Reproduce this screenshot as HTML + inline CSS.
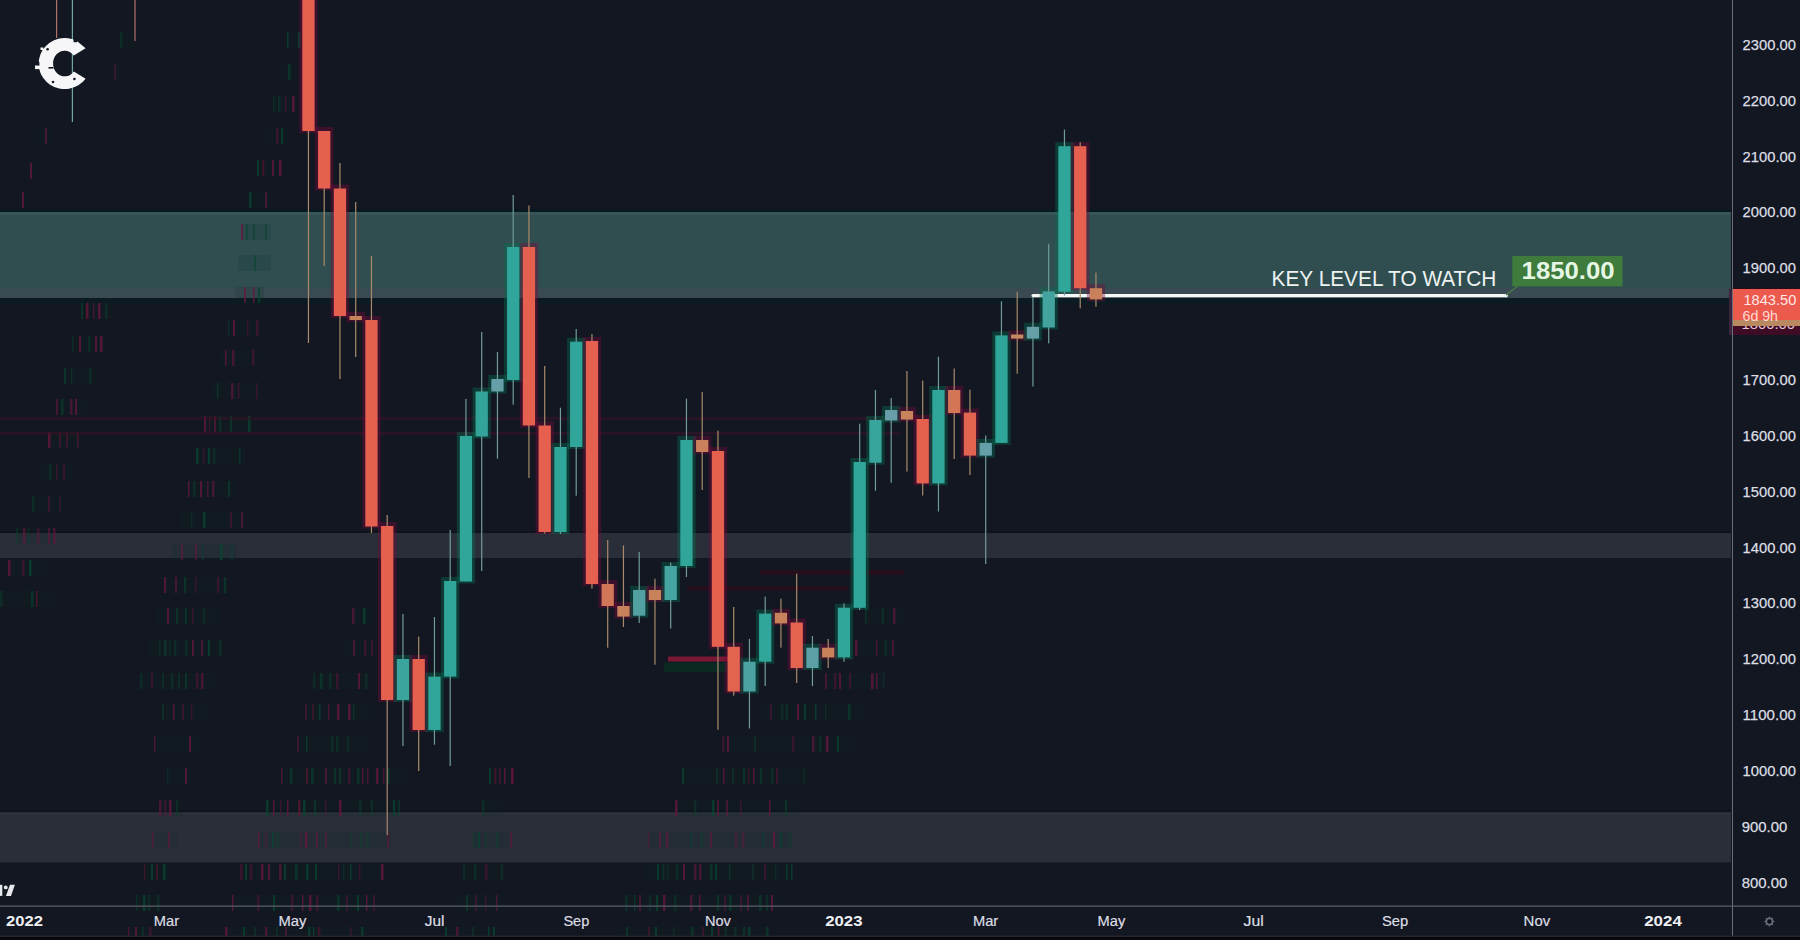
<!DOCTYPE html>
<html><head><meta charset="utf-8">
<style>
html,body{margin:0;padding:0;background:#131722;width:1800px;height:940px;overflow:hidden}
svg{display:block}
.pl{font-family:"Liberation Sans",sans-serif;font-size:15.5px;fill:#dcdee4;stroke:#dcdee4;stroke-width:0.25px}
.tl{font-family:"Liberation Sans",sans-serif;font-size:15.2px;fill:#dcdee4;stroke:#dcdee4;stroke-width:0.2px}
.tb{font-family:"Liberation Sans",sans-serif;font-size:15.4px;font-weight:bold;fill:#eef0f4}
</style></head><body>
<svg width="1800" height="940" viewBox="0 0 1800 940">
<rect x="0" y="0" width="1800" height="940" fill="#131722"/>
<!-- zones -->
<rect x="0" y="209.5" width="1731" height="2.5" fill="#061a1e"/>
<rect x="0" y="212" width="1731" height="76" fill="#304e50"/>
<rect x="0" y="212" width="1731" height="3" fill="#3a5559"/>
<rect x="0" y="288" width="1731" height="10" fill="#3a4a52"/>
<rect x="0" y="298" width="1731" height="6" fill="#0c1b22"/>
<rect x="0" y="531" width="1731" height="2" fill="#10131b"/>
<rect x="0" y="533" width="1731" height="25" fill="#2a2e39"/>
<rect x="0" y="810.5" width="1731" height="2" fill="#10131b"/>
<rect x="0" y="812.5" width="1731" height="50" fill="#2a2e39"/>
<rect x="0" y="812.5" width="1731" height="2" fill="#30343f"/>
<!-- ghost artifacts -->
<g>
<rect x="81.0" y="303" width="2" height="16" fill="#0a4a34" fill-opacity="0.6"/>
<rect x="86.0" y="303" width="2.5" height="16" fill="#7a1440" fill-opacity="0.75"/>
<rect x="93.0" y="303" width="1.5" height="16" fill="#7a1440" fill-opacity="0.6"/>
<rect x="98.0" y="303" width="2.5" height="16" fill="#7a1440" fill-opacity="0.75"/>
<rect x="105.0" y="303" width="2.5" height="16" fill="#0a4a34" fill-opacity="0.45"/>
<rect x="81" y="303" width="31" height="16" fill="#0a2a22" fill-opacity="0.15"/>
<rect x="72.0" y="336" width="1.5" height="16" fill="#0a4a34" fill-opacity="0.45"/>
<rect x="79.0" y="336" width="2" height="16" fill="#7a1440" fill-opacity="0.75"/>
<rect x="88.0" y="336" width="2.5" height="16" fill="#0a4a34" fill-opacity="0.45"/>
<rect x="95.0" y="336" width="2" height="16" fill="#7a1440" fill-opacity="0.75"/>
<rect x="100.0" y="336" width="2.5" height="16" fill="#7a1440" fill-opacity="0.75"/>
<rect x="72" y="336" width="33" height="16" fill="#0a2a22" fill-opacity="0.15"/>
<rect x="64.0" y="368" width="2" height="16" fill="#0a4a34" fill-opacity="0.6"/>
<rect x="71.0" y="368" width="1.5" height="16" fill="#0a4a34" fill-opacity="0.45"/>
<rect x="89.0" y="368" width="2.5" height="16" fill="#0a4a34" fill-opacity="0.45"/>
<rect x="64" y="368" width="32" height="16" fill="#0a2a22" fill-opacity="0.15"/>
<rect x="56.0" y="399" width="2" height="16" fill="#7a1440" fill-opacity="0.6"/>
<rect x="61.0" y="399" width="2.5" height="16" fill="#0a4a34" fill-opacity="0.6"/>
<rect x="70.0" y="399" width="2.5" height="16" fill="#7a1440" fill-opacity="0.6"/>
<rect x="75.0" y="399" width="2" height="16" fill="#7a1440" fill-opacity="0.75"/>
<rect x="56" y="399" width="32" height="16" fill="#0a2a22" fill-opacity="0.15"/>
<rect x="48.0" y="432" width="2.5" height="16" fill="#7a1440" fill-opacity="0.75"/>
<rect x="59.0" y="432" width="2" height="16" fill="#7a1440" fill-opacity="0.45"/>
<rect x="66.0" y="432" width="2" height="16" fill="#7a1440" fill-opacity="0.45"/>
<rect x="77.0" y="432" width="1.5" height="16" fill="#7a1440" fill-opacity="0.6"/>
<rect x="48" y="432" width="32" height="16" fill="#0a2a22" fill-opacity="0.15"/>
<rect x="49.0" y="464" width="2.5" height="16" fill="#0a4a34" fill-opacity="0.45"/>
<rect x="56.0" y="464" width="1.5" height="16" fill="#7a1440" fill-opacity="0.45"/>
<rect x="63.0" y="464" width="2" height="16" fill="#7a1440" fill-opacity="0.45"/>
<rect x="40" y="464" width="32" height="16" fill="#0a2a22" fill-opacity="0.15"/>
<rect x="32.0" y="496" width="2.5" height="16" fill="#0a4a34" fill-opacity="0.45"/>
<rect x="48.0" y="496" width="2" height="16" fill="#7a1440" fill-opacity="0.45"/>
<rect x="59.0" y="496" width="1.5" height="16" fill="#7a1440" fill-opacity="0.45"/>
<rect x="32" y="496" width="31" height="16" fill="#0a2a22" fill-opacity="0.15"/>
<rect x="16.0" y="528" width="2" height="16" fill="#0a4a34" fill-opacity="0.45"/>
<rect x="23.0" y="528" width="2.5" height="16" fill="#7a1440" fill-opacity="0.6"/>
<rect x="28.0" y="528" width="1.5" height="16" fill="#0a4a34" fill-opacity="0.45"/>
<rect x="37.0" y="528" width="2.5" height="16" fill="#7a1440" fill-opacity="0.45"/>
<rect x="48.0" y="528" width="2" height="16" fill="#7a1440" fill-opacity="0.6"/>
<rect x="53.0" y="528" width="2.5" height="16" fill="#7a1440" fill-opacity="0.6"/>
<rect x="16" y="528" width="39" height="16" fill="#0a2a22" fill-opacity="0.15"/>
<rect x="8.0" y="560" width="2.5" height="16" fill="#7a1440" fill-opacity="0.75"/>
<rect x="22.0" y="560" width="2.5" height="16" fill="#7a1440" fill-opacity="0.45"/>
<rect x="29.0" y="560" width="2.5" height="16" fill="#0a4a34" fill-opacity="0.75"/>
<rect x="8" y="560" width="39" height="16" fill="#0a2a22" fill-opacity="0.15"/>
<rect x="0.0" y="591" width="2.5" height="16" fill="#0a4a34" fill-opacity="0.45"/>
<rect x="31.0" y="591" width="2.5" height="16" fill="#0a4a34" fill-opacity="0.6"/>
<rect x="36.0" y="591" width="1.5" height="16" fill="#7a1440" fill-opacity="0.6"/>
<rect x="0" y="591" width="55" height="16" fill="#0a2a22" fill-opacity="0.15"/>
<rect x="287.0" y="32" width="1.5" height="16" fill="#0a4a34" fill-opacity="0.75"/>
<rect x="298.0" y="32" width="2.5" height="16" fill="#0a4a34" fill-opacity="0.75"/>
<rect x="287" y="32" width="13" height="16" fill="#0a2a22" fill-opacity="0.15"/>
<rect x="288.0" y="64" width="2.5" height="16" fill="#0a4a34" fill-opacity="0.6"/>
<rect x="281" y="64" width="16" height="16" fill="#0a2a22" fill-opacity="0.15"/>
<rect x="273.0" y="96" width="1.5" height="16" fill="#0a4a34" fill-opacity="0.45"/>
<rect x="278.0" y="96" width="2.5" height="16" fill="#0a4a34" fill-opacity="0.45"/>
<rect x="285.0" y="96" width="1.5" height="16" fill="#7a1440" fill-opacity="0.45"/>
<rect x="292.0" y="96" width="2.5" height="16" fill="#7a1440" fill-opacity="0.75"/>
<rect x="273" y="96" width="24" height="16" fill="#0a2a22" fill-opacity="0.15"/>
<rect x="276.0" y="128" width="2.5" height="16" fill="#7a1440" fill-opacity="0.45"/>
<rect x="281.0" y="128" width="2" height="16" fill="#0a4a34" fill-opacity="0.75"/>
<rect x="265" y="128" width="24" height="16" fill="#0a2a22" fill-opacity="0.15"/>
<rect x="257.0" y="160" width="2" height="16" fill="#0a4a34" fill-opacity="0.75"/>
<rect x="262.0" y="160" width="2.5" height="16" fill="#7a1440" fill-opacity="0.45"/>
<rect x="272.0" y="160" width="2" height="16" fill="#7a1440" fill-opacity="0.75"/>
<rect x="279.0" y="160" width="2.5" height="16" fill="#7a1440" fill-opacity="0.75"/>
<rect x="257" y="160" width="24" height="16" fill="#0a2a22" fill-opacity="0.15"/>
<rect x="249.0" y="192" width="2.5" height="16" fill="#0a4a34" fill-opacity="0.75"/>
<rect x="265.0" y="192" width="2" height="16" fill="#7a1440" fill-opacity="0.6"/>
<rect x="249" y="192" width="22" height="16" fill="#0a2a22" fill-opacity="0.15"/>
<rect x="241.0" y="224" width="2" height="16" fill="#7a1440" fill-opacity="0.75"/>
<rect x="246.0" y="224" width="1.5" height="16" fill="#0a4a34" fill-opacity="0.75"/>
<rect x="253.0" y="224" width="2" height="16" fill="#0a4a34" fill-opacity="0.6"/>
<rect x="265.0" y="224" width="1.5" height="16" fill="#0a4a34" fill-opacity="0.75"/>
<rect x="241" y="224" width="30" height="16" fill="#0a2a22" fill-opacity="0.15"/>
<rect x="254.0" y="255" width="2" height="16" fill="#0a4a34" fill-opacity="0.6"/>
<rect x="238" y="255" width="33" height="16" fill="#0a2a22" fill-opacity="0.15"/>
<rect x="244.0" y="287" width="2" height="16" fill="#7a1440" fill-opacity="0.75"/>
<rect x="253.0" y="287" width="1.5" height="16" fill="#7a1440" fill-opacity="0.75"/>
<rect x="258.0" y="287" width="2" height="16" fill="#0a4a34" fill-opacity="0.75"/>
<rect x="235" y="287" width="29" height="16" fill="#0a2a22" fill-opacity="0.15"/>
<rect x="228.0" y="320" width="1.5" height="16" fill="#0a4a34" fill-opacity="0.45"/>
<rect x="233.0" y="320" width="2" height="16" fill="#7a1440" fill-opacity="0.75"/>
<rect x="247.0" y="320" width="1.5" height="16" fill="#7a1440" fill-opacity="0.45"/>
<rect x="256.0" y="320" width="2.5" height="16" fill="#7a1440" fill-opacity="0.45"/>
<rect x="228" y="320" width="32" height="16" fill="#0a2a22" fill-opacity="0.15"/>
<rect x="225.0" y="350" width="1.5" height="16" fill="#7a1440" fill-opacity="0.75"/>
<rect x="232.0" y="350" width="2.5" height="16" fill="#7a1440" fill-opacity="0.6"/>
<rect x="252.0" y="350" width="2.5" height="16" fill="#7a1440" fill-opacity="0.45"/>
<rect x="220" y="350" width="38" height="16" fill="#0a2a22" fill-opacity="0.15"/>
<rect x="217.0" y="383" width="1.5" height="16" fill="#0a4a34" fill-opacity="0.6"/>
<rect x="231.0" y="383" width="2.5" height="16" fill="#7a1440" fill-opacity="0.6"/>
<rect x="238.0" y="383" width="1.5" height="16" fill="#7a1440" fill-opacity="0.45"/>
<rect x="256.0" y="383" width="1.5" height="16" fill="#7a1440" fill-opacity="0.45"/>
<rect x="212" y="383" width="48" height="16" fill="#0a2a22" fill-opacity="0.15"/>
<rect x="204.0" y="416" width="2" height="16" fill="#7a1440" fill-opacity="0.75"/>
<rect x="209.0" y="416" width="1.5" height="16" fill="#7a1440" fill-opacity="0.45"/>
<rect x="214.0" y="416" width="2" height="16" fill="#7a1440" fill-opacity="0.6"/>
<rect x="219.0" y="416" width="2.5" height="16" fill="#0a4a34" fill-opacity="0.45"/>
<rect x="230.0" y="416" width="2" height="16" fill="#0a4a34" fill-opacity="0.6"/>
<rect x="248.0" y="416" width="2.5" height="16" fill="#0a4a34" fill-opacity="0.75"/>
<rect x="204" y="416" width="49" height="16" fill="#0a2a22" fill-opacity="0.15"/>
<rect x="196.0" y="448" width="2.5" height="16" fill="#0a4a34" fill-opacity="0.75"/>
<rect x="203.0" y="448" width="1.5" height="16" fill="#7a1440" fill-opacity="0.45"/>
<rect x="208.0" y="448" width="2" height="16" fill="#0a4a34" fill-opacity="0.75"/>
<rect x="213.0" y="448" width="2.5" height="16" fill="#0a4a34" fill-opacity="0.45"/>
<rect x="239.0" y="448" width="1.5" height="16" fill="#0a4a34" fill-opacity="0.6"/>
<rect x="196" y="448" width="49" height="16" fill="#0a2a22" fill-opacity="0.15"/>
<rect x="188.0" y="481" width="1.5" height="16" fill="#7a1440" fill-opacity="0.75"/>
<rect x="193.0" y="481" width="2.5" height="16" fill="#0a4a34" fill-opacity="0.45"/>
<rect x="200.0" y="481" width="2" height="16" fill="#7a1440" fill-opacity="0.75"/>
<rect x="207.0" y="481" width="1.5" height="16" fill="#7a1440" fill-opacity="0.6"/>
<rect x="212.0" y="481" width="2.5" height="16" fill="#7a1440" fill-opacity="0.6"/>
<rect x="228.0" y="481" width="2" height="16" fill="#0a4a34" fill-opacity="0.6"/>
<rect x="188" y="481" width="49" height="16" fill="#0a2a22" fill-opacity="0.15"/>
<rect x="191.0" y="512" width="1.5" height="16" fill="#0a4a34" fill-opacity="0.45"/>
<rect x="203.0" y="512" width="2.5" height="16" fill="#0a4a34" fill-opacity="0.75"/>
<rect x="230.0" y="512" width="2" height="16" fill="#7a1440" fill-opacity="0.45"/>
<rect x="241.0" y="512" width="2" height="16" fill="#7a1440" fill-opacity="0.6"/>
<rect x="180" y="512" width="64" height="16" fill="#0a2a22" fill-opacity="0.15"/>
<rect x="181.0" y="544" width="2" height="16" fill="#7a1440" fill-opacity="0.6"/>
<rect x="195.0" y="544" width="1.5" height="16" fill="#7a1440" fill-opacity="0.75"/>
<rect x="202.0" y="544" width="1.5" height="16" fill="#0a4a34" fill-opacity="0.6"/>
<rect x="220.0" y="544" width="2.5" height="16" fill="#0a4a34" fill-opacity="0.75"/>
<rect x="231.0" y="544" width="2" height="16" fill="#0a4a34" fill-opacity="0.45"/>
<rect x="172" y="544" width="65" height="16" fill="#0a2a22" fill-opacity="0.15"/>
<rect x="164.0" y="577" width="2" height="16" fill="#7a1440" fill-opacity="0.75"/>
<rect x="175.0" y="577" width="2" height="16" fill="#7a1440" fill-opacity="0.6"/>
<rect x="184.0" y="577" width="2" height="16" fill="#0a4a34" fill-opacity="0.6"/>
<rect x="195.0" y="577" width="1.5" height="16" fill="#7a1440" fill-opacity="0.45"/>
<rect x="217.0" y="577" width="2" height="16" fill="#7a1440" fill-opacity="0.45"/>
<rect x="224.0" y="577" width="2" height="16" fill="#0a4a34" fill-opacity="0.6"/>
<rect x="164" y="577" width="64" height="16" fill="#0a2a22" fill-opacity="0.15"/>
<rect x="167.0" y="608" width="2" height="16" fill="#7a1440" fill-opacity="0.75"/>
<rect x="176.0" y="608" width="2" height="16" fill="#0a4a34" fill-opacity="0.6"/>
<rect x="185.0" y="608" width="1.5" height="16" fill="#0a4a34" fill-opacity="0.75"/>
<rect x="192.0" y="608" width="1.5" height="16" fill="#7a1440" fill-opacity="0.45"/>
<rect x="203.0" y="608" width="2" height="16" fill="#0a4a34" fill-opacity="0.45"/>
<rect x="156" y="608" width="65" height="16" fill="#0a2a22" fill-opacity="0.15"/>
<rect x="159.0" y="640" width="1.5" height="16" fill="#0a4a34" fill-opacity="0.45"/>
<rect x="164.0" y="640" width="2.5" height="16" fill="#0a4a34" fill-opacity="0.6"/>
<rect x="169.0" y="640" width="1.5" height="16" fill="#0a4a34" fill-opacity="0.45"/>
<rect x="174.0" y="640" width="2.5" height="16" fill="#0a4a34" fill-opacity="0.45"/>
<rect x="185.0" y="640" width="2.5" height="16" fill="#0a4a34" fill-opacity="0.45"/>
<rect x="192.0" y="640" width="2" height="16" fill="#7a1440" fill-opacity="0.75"/>
<rect x="201.0" y="640" width="2" height="16" fill="#7a1440" fill-opacity="0.6"/>
<rect x="208.0" y="640" width="2" height="16" fill="#0a4a34" fill-opacity="0.75"/>
<rect x="219.0" y="640" width="2.5" height="16" fill="#0a4a34" fill-opacity="0.45"/>
<rect x="148" y="640" width="76" height="16" fill="#0a2a22" fill-opacity="0.15"/>
<rect x="140.0" y="673" width="2.5" height="16" fill="#0a4a34" fill-opacity="0.45"/>
<rect x="151.0" y="673" width="2" height="16" fill="#7a1440" fill-opacity="0.45"/>
<rect x="162.0" y="673" width="2" height="16" fill="#0a4a34" fill-opacity="0.45"/>
<rect x="171.0" y="673" width="2.5" height="16" fill="#0a4a34" fill-opacity="0.45"/>
<rect x="178.0" y="673" width="2" height="16" fill="#0a4a34" fill-opacity="0.45"/>
<rect x="185.0" y="673" width="2" height="16" fill="#0a4a34" fill-opacity="0.6"/>
<rect x="196.0" y="673" width="2.5" height="16" fill="#7a1440" fill-opacity="0.45"/>
<rect x="201.0" y="673" width="2.5" height="16" fill="#7a1440" fill-opacity="0.6"/>
<rect x="140" y="673" width="76" height="16" fill="#0a2a22" fill-opacity="0.15"/>
<rect x="162.0" y="704" width="1.5" height="16" fill="#0a4a34" fill-opacity="0.6"/>
<rect x="173.0" y="704" width="1.5" height="16" fill="#7a1440" fill-opacity="0.75"/>
<rect x="182.0" y="704" width="2" height="16" fill="#7a1440" fill-opacity="0.45"/>
<rect x="191.0" y="704" width="1.5" height="16" fill="#7a1440" fill-opacity="0.45"/>
<rect x="162" y="704" width="46" height="16" fill="#0a2a22" fill-opacity="0.15"/>
<rect x="154.0" y="736" width="1.5" height="16" fill="#7a1440" fill-opacity="0.6"/>
<rect x="189.0" y="736" width="2" height="16" fill="#7a1440" fill-opacity="0.75"/>
<rect x="154" y="736" width="46" height="16" fill="#0a2a22" fill-opacity="0.15"/>
<rect x="167.0" y="768" width="1.5" height="16" fill="#0a4a34" fill-opacity="0.45"/>
<rect x="185.0" y="768" width="2" height="16" fill="#7a1440" fill-opacity="0.75"/>
<rect x="167" y="768" width="24" height="16" fill="#0a2a22" fill-opacity="0.15"/>
<rect x="159.0" y="800" width="2.5" height="16" fill="#7a1440" fill-opacity="0.6"/>
<rect x="164.0" y="800" width="2.5" height="16" fill="#7a1440" fill-opacity="0.45"/>
<rect x="169.0" y="800" width="2.5" height="16" fill="#7a1440" fill-opacity="0.75"/>
<rect x="176.0" y="800" width="2" height="16" fill="#0a4a34" fill-opacity="0.45"/>
<rect x="159" y="800" width="24" height="16" fill="#0a2a22" fill-opacity="0.15"/>
<rect x="152.0" y="832" width="1.5" height="16" fill="#7a1440" fill-opacity="0.6"/>
<rect x="168.0" y="832" width="2" height="16" fill="#7a1440" fill-opacity="0.6"/>
<rect x="152" y="832" width="25" height="16" fill="#0a2a22" fill-opacity="0.15"/>
<rect x="144.0" y="864" width="1.5" height="16" fill="#7a1440" fill-opacity="0.45"/>
<rect x="151.0" y="864" width="2" height="16" fill="#0a4a34" fill-opacity="0.75"/>
<rect x="156.0" y="864" width="2" height="16" fill="#7a1440" fill-opacity="0.45"/>
<rect x="163.0" y="864" width="2.5" height="16" fill="#0a4a34" fill-opacity="0.75"/>
<rect x="144" y="864" width="25" height="16" fill="#0a2a22" fill-opacity="0.15"/>
<rect x="136.0" y="895" width="1.5" height="16" fill="#0a4a34" fill-opacity="0.45"/>
<rect x="143.0" y="895" width="2.5" height="16" fill="#0a4a34" fill-opacity="0.75"/>
<rect x="148.0" y="895" width="2" height="16" fill="#0a4a34" fill-opacity="0.45"/>
<rect x="157.0" y="895" width="2.5" height="16" fill="#0a4a34" fill-opacity="0.45"/>
<rect x="136" y="895" width="25" height="16" fill="#0a2a22" fill-opacity="0.15"/>
<rect x="128.0" y="927" width="1.5" height="16" fill="#7a1440" fill-opacity="0.6"/>
<rect x="135.0" y="927" width="2" height="16" fill="#7a1440" fill-opacity="0.75"/>
<rect x="142.0" y="927" width="1.5" height="16" fill="#0a4a34" fill-opacity="0.6"/>
<rect x="149.0" y="927" width="2.5" height="16" fill="#7a1440" fill-opacity="0.45"/>
<rect x="128" y="927" width="24" height="16" fill="#0a2a22" fill-opacity="0.15"/>
<rect x="352.0" y="608" width="2.5" height="16" fill="#7a1440" fill-opacity="0.6"/>
<rect x="363.0" y="608" width="2.5" height="16" fill="#0a4a34" fill-opacity="0.75"/>
<rect x="352" y="608" width="21" height="16" fill="#0a2a22" fill-opacity="0.15"/>
<rect x="353.0" y="640" width="2" height="16" fill="#7a1440" fill-opacity="0.6"/>
<rect x="364.0" y="640" width="2.5" height="16" fill="#7a1440" fill-opacity="0.45"/>
<rect x="371.0" y="640" width="2" height="16" fill="#7a1440" fill-opacity="0.45"/>
<rect x="344" y="640" width="29" height="16" fill="#0a2a22" fill-opacity="0.15"/>
<rect x="313.0" y="673" width="2" height="16" fill="#0a4a34" fill-opacity="0.45"/>
<rect x="320.0" y="673" width="2.5" height="16" fill="#0a4a34" fill-opacity="0.6"/>
<rect x="329.0" y="673" width="2.5" height="16" fill="#0a4a34" fill-opacity="0.45"/>
<rect x="336.0" y="673" width="2.5" height="16" fill="#7a1440" fill-opacity="0.45"/>
<rect x="358.0" y="673" width="2" height="16" fill="#7a1440" fill-opacity="0.75"/>
<rect x="365.0" y="673" width="2.5" height="16" fill="#0a4a34" fill-opacity="0.45"/>
<rect x="313" y="673" width="55" height="16" fill="#0a2a22" fill-opacity="0.15"/>
<rect x="305.0" y="704" width="2" height="16" fill="#7a1440" fill-opacity="0.45"/>
<rect x="312.0" y="704" width="2" height="16" fill="#7a1440" fill-opacity="0.45"/>
<rect x="319.0" y="704" width="1.5" height="16" fill="#0a4a34" fill-opacity="0.75"/>
<rect x="328.0" y="704" width="1.5" height="16" fill="#7a1440" fill-opacity="0.6"/>
<rect x="337.0" y="704" width="2.5" height="16" fill="#7a1440" fill-opacity="0.75"/>
<rect x="348.0" y="704" width="2.5" height="16" fill="#7a1440" fill-opacity="0.75"/>
<rect x="353.0" y="704" width="1.5" height="16" fill="#0a4a34" fill-opacity="0.6"/>
<rect x="305" y="704" width="65" height="16" fill="#0a2a22" fill-opacity="0.15"/>
<rect x="297.0" y="736" width="2" height="16" fill="#7a1440" fill-opacity="0.45"/>
<rect x="306.0" y="736" width="1.5" height="16" fill="#0a4a34" fill-opacity="0.75"/>
<rect x="331.0" y="736" width="2.5" height="16" fill="#0a4a34" fill-opacity="0.45"/>
<rect x="336.0" y="736" width="2.5" height="16" fill="#0a4a34" fill-opacity="0.45"/>
<rect x="347.0" y="736" width="2" height="16" fill="#0a4a34" fill-opacity="0.45"/>
<rect x="297" y="736" width="71" height="16" fill="#0a2a22" fill-opacity="0.15"/>
<rect x="281.0" y="768" width="1.5" height="16" fill="#7a1440" fill-opacity="0.6"/>
<rect x="290.0" y="768" width="2.5" height="16" fill="#0a4a34" fill-opacity="0.6"/>
<rect x="306.0" y="768" width="2" height="16" fill="#7a1440" fill-opacity="0.6"/>
<rect x="311.0" y="768" width="2.5" height="16" fill="#0a4a34" fill-opacity="0.6"/>
<rect x="325.0" y="768" width="2" height="16" fill="#7a1440" fill-opacity="0.6"/>
<rect x="334.0" y="768" width="2" height="16" fill="#0a4a34" fill-opacity="0.6"/>
<rect x="339.0" y="768" width="2" height="16" fill="#0a4a34" fill-opacity="0.6"/>
<rect x="348.0" y="768" width="2.5" height="16" fill="#7a1440" fill-opacity="0.45"/>
<rect x="357.0" y="768" width="2.5" height="16" fill="#0a4a34" fill-opacity="0.6"/>
<rect x="362.0" y="768" width="1.5" height="16" fill="#7a1440" fill-opacity="0.75"/>
<rect x="367.0" y="768" width="1.5" height="16" fill="#7a1440" fill-opacity="0.6"/>
<rect x="376.0" y="768" width="2.5" height="16" fill="#7a1440" fill-opacity="0.75"/>
<rect x="383.0" y="768" width="1.5" height="16" fill="#7a1440" fill-opacity="0.6"/>
<rect x="388.0" y="768" width="1.5" height="16" fill="#0a4a34" fill-opacity="0.6"/>
<rect x="281" y="768" width="126" height="16" fill="#0a2a22" fill-opacity="0.15"/>
<rect x="266.0" y="800" width="2.5" height="16" fill="#0a4a34" fill-opacity="0.75"/>
<rect x="273.0" y="800" width="1.5" height="16" fill="#7a1440" fill-opacity="0.75"/>
<rect x="280.0" y="800" width="1.5" height="16" fill="#7a1440" fill-opacity="0.45"/>
<rect x="287.0" y="800" width="1.5" height="16" fill="#7a1440" fill-opacity="0.75"/>
<rect x="298.0" y="800" width="2.5" height="16" fill="#7a1440" fill-opacity="0.6"/>
<rect x="303.0" y="800" width="2.5" height="16" fill="#0a4a34" fill-opacity="0.75"/>
<rect x="314.0" y="800" width="2" height="16" fill="#0a4a34" fill-opacity="0.6"/>
<rect x="325.0" y="800" width="1.5" height="16" fill="#7a1440" fill-opacity="0.45"/>
<rect x="339.0" y="800" width="2.5" height="16" fill="#7a1440" fill-opacity="0.75"/>
<rect x="359.0" y="800" width="2.5" height="16" fill="#0a4a34" fill-opacity="0.45"/>
<rect x="371.0" y="800" width="1.5" height="16" fill="#0a4a34" fill-opacity="0.6"/>
<rect x="393.0" y="800" width="2" height="16" fill="#0a4a34" fill-opacity="0.75"/>
<rect x="398.0" y="800" width="2" height="16" fill="#0a4a34" fill-opacity="0.45"/>
<rect x="266" y="800" width="133" height="16" fill="#0a2a22" fill-opacity="0.15"/>
<rect x="258.0" y="832" width="1.5" height="16" fill="#7a1440" fill-opacity="0.75"/>
<rect x="265.0" y="832" width="1.5" height="16" fill="#7a1440" fill-opacity="0.45"/>
<rect x="272.0" y="832" width="2" height="16" fill="#0a4a34" fill-opacity="0.75"/>
<rect x="277.0" y="832" width="1.5" height="16" fill="#0a4a34" fill-opacity="0.75"/>
<rect x="300.0" y="832" width="1.5" height="16" fill="#7a1440" fill-opacity="0.45"/>
<rect x="305.0" y="832" width="2.5" height="16" fill="#7a1440" fill-opacity="0.75"/>
<rect x="316.0" y="832" width="1.5" height="16" fill="#7a1440" fill-opacity="0.75"/>
<rect x="325.0" y="832" width="2" height="16" fill="#7a1440" fill-opacity="0.45"/>
<rect x="350.0" y="832" width="2" height="16" fill="#0a4a34" fill-opacity="0.45"/>
<rect x="360.0" y="832" width="2.5" height="16" fill="#0a4a34" fill-opacity="0.45"/>
<rect x="367.0" y="832" width="2" height="16" fill="#0a4a34" fill-opacity="0.45"/>
<rect x="387.0" y="832" width="2.5" height="16" fill="#7a1440" fill-opacity="0.45"/>
<rect x="258" y="832" width="133" height="16" fill="#0a2a22" fill-opacity="0.15"/>
<rect x="240.0" y="864" width="2.5" height="16" fill="#7a1440" fill-opacity="0.45"/>
<rect x="245.0" y="864" width="2" height="16" fill="#0a4a34" fill-opacity="0.75"/>
<rect x="250.0" y="864" width="2.5" height="16" fill="#7a1440" fill-opacity="0.45"/>
<rect x="261.0" y="864" width="2.5" height="16" fill="#7a1440" fill-opacity="0.75"/>
<rect x="268.0" y="864" width="2" height="16" fill="#7a1440" fill-opacity="0.75"/>
<rect x="279.0" y="864" width="2.5" height="16" fill="#7a1440" fill-opacity="0.6"/>
<rect x="284.0" y="864" width="2" height="16" fill="#0a4a34" fill-opacity="0.75"/>
<rect x="295.0" y="864" width="2.5" height="16" fill="#0a4a34" fill-opacity="0.6"/>
<rect x="306.0" y="864" width="2.5" height="16" fill="#0a4a34" fill-opacity="0.75"/>
<rect x="315.0" y="864" width="2" height="16" fill="#0a4a34" fill-opacity="0.75"/>
<rect x="338.0" y="864" width="1.5" height="16" fill="#7a1440" fill-opacity="0.45"/>
<rect x="343.0" y="864" width="1.5" height="16" fill="#0a4a34" fill-opacity="0.45"/>
<rect x="350.0" y="864" width="1.5" height="16" fill="#0a4a34" fill-opacity="0.75"/>
<rect x="359.0" y="864" width="1.5" height="16" fill="#7a1440" fill-opacity="0.45"/>
<rect x="381.0" y="864" width="2.5" height="16" fill="#7a1440" fill-opacity="0.75"/>
<rect x="240" y="864" width="143" height="16" fill="#0a2a22" fill-opacity="0.15"/>
<rect x="232.0" y="895" width="1.5" height="16" fill="#7a1440" fill-opacity="0.75"/>
<rect x="257.0" y="895" width="2.5" height="16" fill="#7a1440" fill-opacity="0.45"/>
<rect x="273.0" y="895" width="2" height="16" fill="#0a4a34" fill-opacity="0.75"/>
<rect x="291.0" y="895" width="2.5" height="16" fill="#7a1440" fill-opacity="0.45"/>
<rect x="302.0" y="895" width="1.5" height="16" fill="#7a1440" fill-opacity="0.75"/>
<rect x="309.0" y="895" width="2.5" height="16" fill="#7a1440" fill-opacity="0.75"/>
<rect x="316.0" y="895" width="2.5" height="16" fill="#7a1440" fill-opacity="0.45"/>
<rect x="337.0" y="895" width="2.5" height="16" fill="#0a4a34" fill-opacity="0.6"/>
<rect x="346.0" y="895" width="2" height="16" fill="#7a1440" fill-opacity="0.45"/>
<rect x="357.0" y="895" width="2" height="16" fill="#0a4a34" fill-opacity="0.75"/>
<rect x="366.0" y="895" width="1.5" height="16" fill="#7a1440" fill-opacity="0.75"/>
<rect x="373.0" y="895" width="2" height="16" fill="#7a1440" fill-opacity="0.45"/>
<rect x="232" y="895" width="143" height="16" fill="#0a2a22" fill-opacity="0.15"/>
<rect x="225.0" y="927" width="2.5" height="16" fill="#7a1440" fill-opacity="0.75"/>
<rect x="243.0" y="927" width="2" height="16" fill="#0a4a34" fill-opacity="0.75"/>
<rect x="254.0" y="927" width="2" height="16" fill="#0a4a34" fill-opacity="0.45"/>
<rect x="265.0" y="927" width="2.5" height="16" fill="#7a1440" fill-opacity="0.6"/>
<rect x="276.0" y="927" width="1.5" height="16" fill="#0a4a34" fill-opacity="0.6"/>
<rect x="285.0" y="927" width="2" height="16" fill="#7a1440" fill-opacity="0.6"/>
<rect x="308.0" y="927" width="2.5" height="16" fill="#0a4a34" fill-opacity="0.75"/>
<rect x="313.0" y="927" width="1.5" height="16" fill="#0a4a34" fill-opacity="0.75"/>
<rect x="318.0" y="927" width="2.5" height="16" fill="#7a1440" fill-opacity="0.45"/>
<rect x="350.0" y="927" width="1.5" height="16" fill="#7a1440" fill-opacity="0.45"/>
<rect x="361.0" y="927" width="2.5" height="16" fill="#0a4a34" fill-opacity="0.75"/>
<rect x="225" y="927" width="142" height="16" fill="#0a2a22" fill-opacity="0.15"/>
<rect x="865.0" y="608" width="1.5" height="16" fill="#0a4a34" fill-opacity="0.6"/>
<rect x="882.0" y="608" width="1.5" height="16" fill="#0a4a34" fill-opacity="0.6"/>
<rect x="893.0" y="608" width="2.5" height="16" fill="#7a1440" fill-opacity="0.6"/>
<rect x="865" y="608" width="39" height="16" fill="#0a2a22" fill-opacity="0.15"/>
<rect x="855.0" y="640" width="2.5" height="16" fill="#7a1440" fill-opacity="0.75"/>
<rect x="876.0" y="640" width="1.5" height="16" fill="#7a1440" fill-opacity="0.6"/>
<rect x="885.0" y="640" width="1.5" height="16" fill="#0a4a34" fill-opacity="0.6"/>
<rect x="892.0" y="640" width="2" height="16" fill="#7a1440" fill-opacity="0.6"/>
<rect x="855" y="640" width="41" height="16" fill="#0a2a22" fill-opacity="0.15"/>
<rect x="825.0" y="673" width="2" height="16" fill="#7a1440" fill-opacity="0.6"/>
<rect x="834.0" y="673" width="2.5" height="16" fill="#7a1440" fill-opacity="0.45"/>
<rect x="839.0" y="673" width="2" height="16" fill="#7a1440" fill-opacity="0.75"/>
<rect x="849.0" y="673" width="2" height="16" fill="#7a1440" fill-opacity="0.45"/>
<rect x="871.0" y="673" width="2.5" height="16" fill="#7a1440" fill-opacity="0.75"/>
<rect x="876.0" y="673" width="1.5" height="16" fill="#7a1440" fill-opacity="0.75"/>
<rect x="883.0" y="673" width="1.5" height="16" fill="#0a4a34" fill-opacity="0.45"/>
<rect x="825" y="673" width="60" height="16" fill="#0a2a22" fill-opacity="0.15"/>
<rect x="770.0" y="704" width="2" height="16" fill="#7a1440" fill-opacity="0.45"/>
<rect x="781.0" y="704" width="2.5" height="16" fill="#0a4a34" fill-opacity="0.45"/>
<rect x="786.0" y="704" width="1.5" height="16" fill="#0a4a34" fill-opacity="0.6"/>
<rect x="797.0" y="704" width="2" height="16" fill="#7a1440" fill-opacity="0.75"/>
<rect x="804.0" y="704" width="2" height="16" fill="#0a4a34" fill-opacity="0.75"/>
<rect x="815.0" y="704" width="1.5" height="16" fill="#0a4a34" fill-opacity="0.75"/>
<rect x="825.0" y="704" width="1.5" height="16" fill="#0a4a34" fill-opacity="0.45"/>
<rect x="848.0" y="704" width="2.5" height="16" fill="#0a4a34" fill-opacity="0.6"/>
<rect x="761" y="704" width="103" height="16" fill="#0a2a22" fill-opacity="0.15"/>
<rect x="722.0" y="736" width="2.5" height="16" fill="#7a1440" fill-opacity="0.45"/>
<rect x="727.0" y="736" width="2" height="16" fill="#7a1440" fill-opacity="0.75"/>
<rect x="754.0" y="736" width="2" height="16" fill="#0a4a34" fill-opacity="0.45"/>
<rect x="792.0" y="736" width="2.5" height="16" fill="#7a1440" fill-opacity="0.45"/>
<rect x="812.0" y="736" width="2.5" height="16" fill="#7a1440" fill-opacity="0.6"/>
<rect x="819.0" y="736" width="2.5" height="16" fill="#0a4a34" fill-opacity="0.45"/>
<rect x="826.0" y="736" width="2.5" height="16" fill="#7a1440" fill-opacity="0.75"/>
<rect x="837.0" y="736" width="2" height="16" fill="#0a4a34" fill-opacity="0.75"/>
<rect x="722" y="736" width="132" height="16" fill="#0a2a22" fill-opacity="0.15"/>
<rect x="682.0" y="768" width="2" height="16" fill="#0a4a34" fill-opacity="0.75"/>
<rect x="716.0" y="768" width="2" height="16" fill="#0a4a34" fill-opacity="0.45"/>
<rect x="723.0" y="768" width="1.5" height="16" fill="#7a1440" fill-opacity="0.75"/>
<rect x="732.0" y="768" width="2" height="16" fill="#0a4a34" fill-opacity="0.45"/>
<rect x="743.0" y="768" width="2" height="16" fill="#0a4a34" fill-opacity="0.6"/>
<rect x="748.0" y="768" width="1.5" height="16" fill="#7a1440" fill-opacity="0.45"/>
<rect x="753.0" y="768" width="1.5" height="16" fill="#7a1440" fill-opacity="0.75"/>
<rect x="760.0" y="768" width="2" height="16" fill="#0a4a34" fill-opacity="0.6"/>
<rect x="771.0" y="768" width="2.5" height="16" fill="#0a4a34" fill-opacity="0.45"/>
<rect x="776.0" y="768" width="2" height="16" fill="#7a1440" fill-opacity="0.45"/>
<rect x="803.0" y="768" width="1.5" height="16" fill="#0a4a34" fill-opacity="0.45"/>
<rect x="682" y="768" width="125" height="16" fill="#0a2a22" fill-opacity="0.15"/>
<rect x="675.0" y="800" width="2.5" height="16" fill="#7a1440" fill-opacity="0.75"/>
<rect x="694.0" y="800" width="2.5" height="16" fill="#0a4a34" fill-opacity="0.45"/>
<rect x="712.0" y="800" width="2.5" height="16" fill="#0a4a34" fill-opacity="0.75"/>
<rect x="717.0" y="800" width="2" height="16" fill="#7a1440" fill-opacity="0.6"/>
<rect x="726.0" y="800" width="2" height="16" fill="#7a1440" fill-opacity="0.6"/>
<rect x="740.0" y="800" width="1.5" height="16" fill="#7a1440" fill-opacity="0.45"/>
<rect x="769.0" y="800" width="1.5" height="16" fill="#7a1440" fill-opacity="0.75"/>
<rect x="785.0" y="800" width="2" height="16" fill="#0a4a34" fill-opacity="0.6"/>
<rect x="675" y="800" width="124" height="16" fill="#0a2a22" fill-opacity="0.15"/>
<rect x="648.0" y="832" width="1.5" height="16" fill="#7a1440" fill-opacity="0.45"/>
<rect x="659.0" y="832" width="1.5" height="16" fill="#7a1440" fill-opacity="0.75"/>
<rect x="666.0" y="832" width="2.5" height="16" fill="#7a1440" fill-opacity="0.6"/>
<rect x="690.0" y="832" width="2" height="16" fill="#0a4a34" fill-opacity="0.6"/>
<rect x="701.0" y="832" width="1.5" height="16" fill="#0a4a34" fill-opacity="0.75"/>
<rect x="710.0" y="832" width="2" height="16" fill="#7a1440" fill-opacity="0.6"/>
<rect x="735.0" y="832" width="2" height="16" fill="#7a1440" fill-opacity="0.45"/>
<rect x="742.0" y="832" width="2.5" height="16" fill="#7a1440" fill-opacity="0.45"/>
<rect x="762.0" y="832" width="2" height="16" fill="#0a4a34" fill-opacity="0.6"/>
<rect x="773.0" y="832" width="2" height="16" fill="#7a1440" fill-opacity="0.75"/>
<rect x="780.0" y="832" width="2.5" height="16" fill="#0a4a34" fill-opacity="0.6"/>
<rect x="789.0" y="832" width="2.5" height="16" fill="#0a4a34" fill-opacity="0.45"/>
<rect x="648" y="832" width="144" height="16" fill="#0a2a22" fill-opacity="0.15"/>
<rect x="657.0" y="864" width="2" height="16" fill="#0a4a34" fill-opacity="0.75"/>
<rect x="662.0" y="864" width="2.5" height="16" fill="#0a4a34" fill-opacity="0.45"/>
<rect x="667.0" y="864" width="1.5" height="16" fill="#0a4a34" fill-opacity="0.45"/>
<rect x="676.0" y="864" width="2.5" height="16" fill="#0a4a34" fill-opacity="0.45"/>
<rect x="683.0" y="864" width="2" height="16" fill="#7a1440" fill-opacity="0.75"/>
<rect x="694.0" y="864" width="2.5" height="16" fill="#7a1440" fill-opacity="0.6"/>
<rect x="699.0" y="864" width="2.5" height="16" fill="#7a1440" fill-opacity="0.6"/>
<rect x="710.0" y="864" width="2.5" height="16" fill="#0a4a34" fill-opacity="0.6"/>
<rect x="715.0" y="864" width="2" height="16" fill="#0a4a34" fill-opacity="0.75"/>
<rect x="729.0" y="864" width="1.5" height="16" fill="#0a4a34" fill-opacity="0.6"/>
<rect x="752.0" y="864" width="2" height="16" fill="#0a4a34" fill-opacity="0.45"/>
<rect x="764.0" y="864" width="2" height="16" fill="#7a1440" fill-opacity="0.45"/>
<rect x="775.0" y="864" width="1.5" height="16" fill="#0a4a34" fill-opacity="0.45"/>
<rect x="786.0" y="864" width="2" height="16" fill="#0a4a34" fill-opacity="0.6"/>
<rect x="791.0" y="864" width="1.5" height="16" fill="#0a4a34" fill-opacity="0.75"/>
<rect x="643" y="864" width="149" height="16" fill="#0a2a22" fill-opacity="0.15"/>
<rect x="625.0" y="895" width="2.5" height="16" fill="#0a4a34" fill-opacity="0.45"/>
<rect x="634.0" y="895" width="1.5" height="16" fill="#0a4a34" fill-opacity="0.6"/>
<rect x="639.0" y="895" width="2" height="16" fill="#7a1440" fill-opacity="0.6"/>
<rect x="649.0" y="895" width="2" height="16" fill="#0a4a34" fill-opacity="0.45"/>
<rect x="656.0" y="895" width="2" height="16" fill="#0a4a34" fill-opacity="0.75"/>
<rect x="663.0" y="895" width="2.5" height="16" fill="#7a1440" fill-opacity="0.75"/>
<rect x="674.0" y="895" width="2.5" height="16" fill="#0a4a34" fill-opacity="0.45"/>
<rect x="690.0" y="895" width="2.5" height="16" fill="#7a1440" fill-opacity="0.6"/>
<rect x="699.0" y="895" width="1.5" height="16" fill="#7a1440" fill-opacity="0.75"/>
<rect x="717.0" y="895" width="2" height="16" fill="#0a4a34" fill-opacity="0.6"/>
<rect x="724.0" y="895" width="2" height="16" fill="#7a1440" fill-opacity="0.45"/>
<rect x="729.0" y="895" width="2.5" height="16" fill="#0a4a34" fill-opacity="0.6"/>
<rect x="740.0" y="895" width="2" height="16" fill="#7a1440" fill-opacity="0.45"/>
<rect x="747.0" y="895" width="2" height="16" fill="#7a1440" fill-opacity="0.6"/>
<rect x="759.0" y="895" width="2.5" height="16" fill="#0a4a34" fill-opacity="0.6"/>
<rect x="766.0" y="895" width="2" height="16" fill="#0a4a34" fill-opacity="0.45"/>
<rect x="771.0" y="895" width="2" height="16" fill="#7a1440" fill-opacity="0.75"/>
<rect x="625" y="895" width="153" height="16" fill="#0a2a22" fill-opacity="0.15"/>
<rect x="626.0" y="927" width="2" height="16" fill="#0a4a34" fill-opacity="0.6"/>
<rect x="648.0" y="927" width="2" height="16" fill="#7a1440" fill-opacity="0.45"/>
<rect x="655.0" y="927" width="2" height="16" fill="#0a4a34" fill-opacity="0.75"/>
<rect x="673.0" y="927" width="1.5" height="16" fill="#0a4a34" fill-opacity="0.45"/>
<rect x="691.0" y="927" width="2.5" height="16" fill="#0a4a34" fill-opacity="0.6"/>
<rect x="702.0" y="927" width="2" height="16" fill="#7a1440" fill-opacity="0.45"/>
<rect x="711.0" y="927" width="2" height="16" fill="#0a4a34" fill-opacity="0.75"/>
<rect x="718.0" y="927" width="1.5" height="16" fill="#7a1440" fill-opacity="0.75"/>
<rect x="725.0" y="927" width="1.5" height="16" fill="#0a4a34" fill-opacity="0.6"/>
<rect x="734.0" y="927" width="2.5" height="16" fill="#0a4a34" fill-opacity="0.45"/>
<rect x="743.0" y="927" width="2" height="16" fill="#0a4a34" fill-opacity="0.6"/>
<rect x="748.0" y="927" width="2.5" height="16" fill="#0a4a34" fill-opacity="0.75"/>
<rect x="766.0" y="927" width="2.5" height="16" fill="#0a4a34" fill-opacity="0.6"/>
<rect x="615" y="927" width="155" height="16" fill="#0a2a22" fill-opacity="0.15"/>
<rect x="489.0" y="768" width="2" height="16" fill="#0a4a34" fill-opacity="0.75"/>
<rect x="494.0" y="768" width="2.5" height="16" fill="#7a1440" fill-opacity="0.45"/>
<rect x="499.0" y="768" width="2" height="16" fill="#7a1440" fill-opacity="0.45"/>
<rect x="504.0" y="768" width="1.5" height="16" fill="#7a1440" fill-opacity="0.75"/>
<rect x="511.0" y="768" width="2.5" height="16" fill="#7a1440" fill-opacity="0.75"/>
<rect x="489" y="768" width="23" height="16" fill="#0a2a22" fill-opacity="0.15"/>
<rect x="482.0" y="800" width="2.5" height="16" fill="#0a4a34" fill-opacity="0.45"/>
<rect x="482" y="800" width="21" height="16" fill="#0a2a22" fill-opacity="0.15"/>
<rect x="473.0" y="832" width="1.5" height="16" fill="#0a4a34" fill-opacity="0.6"/>
<rect x="478.0" y="832" width="2" height="16" fill="#0a4a34" fill-opacity="0.75"/>
<rect x="485.0" y="832" width="2" height="16" fill="#0a4a34" fill-opacity="0.45"/>
<rect x="496.0" y="832" width="2.5" height="16" fill="#0a4a34" fill-opacity="0.45"/>
<rect x="510.0" y="832" width="2" height="16" fill="#7a1440" fill-opacity="0.6"/>
<rect x="473" y="832" width="39" height="16" fill="#0a2a22" fill-opacity="0.15"/>
<rect x="463.0" y="864" width="2" height="16" fill="#0a4a34" fill-opacity="0.45"/>
<rect x="474.0" y="864" width="2.5" height="16" fill="#0a4a34" fill-opacity="0.45"/>
<rect x="485.0" y="864" width="2.5" height="16" fill="#7a1440" fill-opacity="0.45"/>
<rect x="501.0" y="864" width="2" height="16" fill="#0a4a34" fill-opacity="0.45"/>
<rect x="463" y="864" width="40" height="16" fill="#0a2a22" fill-opacity="0.15"/>
<rect x="466.0" y="895" width="2" height="16" fill="#0a4a34" fill-opacity="0.6"/>
<rect x="475.0" y="895" width="2" height="16" fill="#7a1440" fill-opacity="0.45"/>
<rect x="485.0" y="895" width="1.5" height="16" fill="#7a1440" fill-opacity="0.45"/>
<rect x="496.0" y="895" width="1.5" height="16" fill="#7a1440" fill-opacity="0.6"/>
<rect x="455" y="895" width="48" height="16" fill="#0a2a22" fill-opacity="0.15"/>
<rect x="445.0" y="927" width="2" height="16" fill="#0a4a34" fill-opacity="0.75"/>
<rect x="456.0" y="927" width="2.5" height="16" fill="#7a1440" fill-opacity="0.6"/>
<rect x="472.0" y="927" width="2" height="16" fill="#0a4a34" fill-opacity="0.45"/>
<rect x="488.0" y="927" width="1.5" height="16" fill="#0a4a34" fill-opacity="0.75"/>
<rect x="493.0" y="927" width="2" height="16" fill="#0a4a34" fill-opacity="0.75"/>
<rect x="445" y="927" width="50" height="16" fill="#0a2a22" fill-opacity="0.15"/>
<rect x="114.0" y="64" width="2" height="16" fill="#7a1440" fill-opacity="0.45"/>
<rect x="114" y="64" width="7" height="16" fill="#0a2a22" fill-opacity="0.15"/>
<rect x="120.0" y="32" width="2.5" height="16" fill="#0a4a34" fill-opacity="0.45"/>
<rect x="120" y="32" width="15" height="16" fill="#0a2a22" fill-opacity="0.15"/>
<rect x="45.0" y="128" width="2" height="16" fill="#7a1440" fill-opacity="0.6"/>
<rect x="38" y="128" width="15" height="16" fill="#0a2a22" fill-opacity="0.15"/>
<rect x="30.0" y="163" width="2" height="16" fill="#7a1440" fill-opacity="0.75"/>
<rect x="30" y="163" width="5" height="16" fill="#0a2a22" fill-opacity="0.15"/>
<rect x="22.0" y="192" width="2" height="16" fill="#7a1440" fill-opacity="0.75"/>
<rect x="22" y="192" width="5" height="16" fill="#0a2a22" fill-opacity="0.15"/>
<rect x="664" y="662.5" width="63" height="9.5" fill="#0a2d24" fill-opacity="0.8"/>
<rect x="668" y="656.5" width="67.5" height="5" fill="#8c1838" fill-opacity="0.85"/>
<rect x="0" y="417" width="900" height="3" fill="#3a1226" fill-opacity="0.55"/>
<rect x="0" y="432" width="900" height="3" fill="#3a1226" fill-opacity="0.55"/>
<rect x="760" y="570" width="144" height="5" fill="#2a0e1c" fill-opacity="0.8"/>
<rect x="687" y="586" width="161" height="4.5" fill="#2a0e1c" fill-opacity="0.8"/>
</g>
<!-- top-left wicks -->
<rect x="56" y="0" width="1.2" height="38" fill="#b0706a"/>
<rect x="71.8" y="0" width="1.2" height="122" fill="#70a8a0"/>
<rect x="134.4" y="0" width="1.2" height="41" fill="#b0706a"/>
<rect x="1031.5" y="294" width="474.5" height="3.2" rx="1.6" fill="#f4f8f7"/>
<circle cx="1506" cy="295.6" r="1.9" fill="#f4f8f7"/>
<rect x="299.30" y="-9.00" width="18.30" height="142.00" fill="#7a0a3c" fill-opacity="0.4"/>
<rect x="315.05" y="127.00" width="18.30" height="63.50" fill="#7a0a3c" fill-opacity="0.4"/>
<rect x="330.80" y="184.50" width="18.30" height="133.50" fill="#7a0a3c" fill-opacity="0.4"/>
<rect x="346.55" y="312.00" width="18.30" height="10.00" fill="#7a0a3c" fill-opacity="0.4"/>
<rect x="362.30" y="316.00" width="18.30" height="212.50" fill="#7a0a3c" fill-opacity="0.4"/>
<rect x="378.05" y="522.00" width="18.30" height="180.00" fill="#7a0a3c" fill-opacity="0.4"/>
<rect x="393.80" y="655.00" width="18.30" height="47.00" fill="#06704f" fill-opacity="0.4"/>
<rect x="409.55" y="655.00" width="18.30" height="77.00" fill="#7a0a3c" fill-opacity="0.4"/>
<rect x="425.30" y="672.60" width="18.30" height="59.40" fill="#06704f" fill-opacity="0.4"/>
<rect x="441.05" y="577.00" width="18.30" height="101.60" fill="#06704f" fill-opacity="0.4"/>
<rect x="456.80" y="432.00" width="18.30" height="151.50" fill="#06704f" fill-opacity="0.4"/>
<rect x="472.55" y="387.50" width="18.30" height="51.00" fill="#06704f" fill-opacity="0.4"/>
<rect x="488.30" y="375.00" width="18.30" height="18.50" fill="#06704f" fill-opacity="0.4"/>
<rect x="504.05" y="243.00" width="18.30" height="139.00" fill="#06704f" fill-opacity="0.4"/>
<rect x="519.80" y="243.00" width="18.30" height="184.50" fill="#7a0a3c" fill-opacity="0.4"/>
<rect x="535.55" y="421.50" width="18.30" height="112.50" fill="#7a0a3c" fill-opacity="0.4"/>
<rect x="551.30" y="443.00" width="18.30" height="91.00" fill="#06704f" fill-opacity="0.4"/>
<rect x="567.05" y="337.70" width="18.30" height="111.30" fill="#06704f" fill-opacity="0.4"/>
<rect x="582.80" y="337.00" width="18.30" height="249.00" fill="#7a0a3c" fill-opacity="0.4"/>
<rect x="598.55" y="580.00" width="18.30" height="28.00" fill="#7a0a3c" fill-opacity="0.4"/>
<rect x="614.30" y="602.00" width="18.30" height="16.60" fill="#7a0a3c" fill-opacity="0.4"/>
<rect x="630.05" y="586.00" width="18.30" height="31.70" fill="#06704f" fill-opacity="0.4"/>
<rect x="645.80" y="586.00" width="18.30" height="16.00" fill="#7a0a3c" fill-opacity="0.4"/>
<rect x="661.55" y="562.00" width="18.30" height="40.00" fill="#06704f" fill-opacity="0.4"/>
<rect x="677.30" y="436.00" width="18.30" height="132.00" fill="#06704f" fill-opacity="0.4"/>
<rect x="693.05" y="436.00" width="18.30" height="18.00" fill="#7a0a3c" fill-opacity="0.4"/>
<rect x="708.80" y="447.00" width="18.30" height="201.80" fill="#7a0a3c" fill-opacity="0.4"/>
<rect x="724.55" y="642.80" width="18.30" height="50.70" fill="#7a0a3c" fill-opacity="0.4"/>
<rect x="740.30" y="657.70" width="18.30" height="35.80" fill="#06704f" fill-opacity="0.4"/>
<rect x="756.05" y="609.60" width="18.30" height="54.10" fill="#06704f" fill-opacity="0.4"/>
<rect x="771.80" y="608.80" width="18.30" height="16.60" fill="#7a0a3c" fill-opacity="0.4"/>
<rect x="787.55" y="618.50" width="18.30" height="51.50" fill="#7a0a3c" fill-opacity="0.4"/>
<rect x="803.30" y="643.70" width="18.30" height="26.30" fill="#06704f" fill-opacity="0.4"/>
<rect x="819.05" y="643.70" width="18.30" height="15.70" fill="#7a0a3c" fill-opacity="0.4"/>
<rect x="834.80" y="603.70" width="18.30" height="55.70" fill="#06704f" fill-opacity="0.4"/>
<rect x="850.55" y="458.00" width="18.30" height="151.80" fill="#06704f" fill-opacity="0.4"/>
<rect x="866.30" y="416.00" width="18.30" height="48.70" fill="#06704f" fill-opacity="0.4"/>
<rect x="882.05" y="406.00" width="18.30" height="16.50" fill="#06704f" fill-opacity="0.4"/>
<rect x="897.80" y="407.00" width="18.30" height="14.60" fill="#7a0a3c" fill-opacity="0.4"/>
<rect x="913.55" y="415.00" width="18.30" height="70.40" fill="#7a0a3c" fill-opacity="0.4"/>
<rect x="929.30" y="386.00" width="18.30" height="99.40" fill="#06704f" fill-opacity="0.4"/>
<rect x="945.05" y="386.00" width="18.30" height="29.00" fill="#7a0a3c" fill-opacity="0.4"/>
<rect x="960.80" y="408.60" width="18.30" height="49.00" fill="#7a0a3c" fill-opacity="0.4"/>
<rect x="976.55" y="438.90" width="18.30" height="18.70" fill="#06704f" fill-opacity="0.4"/>
<rect x="992.30" y="331.40" width="18.30" height="113.50" fill="#06704f" fill-opacity="0.4"/>
<rect x="1008.05" y="330.50" width="18.30" height="10.10" fill="#7a0a3c" fill-opacity="0.4"/>
<rect x="1023.80" y="322.80" width="18.30" height="17.80" fill="#06704f" fill-opacity="0.4"/>
<rect x="1039.55" y="287.40" width="18.30" height="42.10" fill="#06704f" fill-opacity="0.4"/>
<rect x="1055.30" y="142.20" width="18.30" height="151.50" fill="#06704f" fill-opacity="0.4"/>
<rect x="1071.05" y="142.20" width="18.30" height="148.00" fill="#7a0a3c" fill-opacity="0.4"/>
<rect x="1086.80" y="284.20" width="18.30" height="17.20" fill="#7a0a3c" fill-opacity="0.4"/>
<rect x="307.85" y="-5.00" width="1.2" height="348.00" fill="#a88a6c"/>
<rect x="302.30" y="-5.00" width="12.3" height="136.00" fill="#e5604f"/>
<rect x="323.60" y="131.00" width="1.2" height="135.00" fill="#a88a6c"/>
<rect x="318.05" y="131.00" width="12.3" height="57.50" fill="#e5604f"/>
<rect x="339.35" y="163.00" width="1.2" height="216.00" fill="#a88a6c"/>
<rect x="333.80" y="188.50" width="12.3" height="127.50" fill="#e5604f"/>
<rect x="355.10" y="202.00" width="1.2" height="155.00" fill="#a88a6c"/>
<rect x="349.55" y="316.00" width="12.3" height="4.00" fill="#c6845c"/>
<rect x="370.85" y="256.00" width="1.2" height="277.00" fill="#a88a6c"/>
<rect x="365.30" y="320.00" width="12.3" height="206.50" fill="#e5604f"/>
<rect x="386.60" y="515.00" width="1.2" height="320.00" fill="#a88a6c"/>
<rect x="381.05" y="526.00" width="12.3" height="174.00" fill="#e5604f"/>
<rect x="402.35" y="614.00" width="1.2" height="132.00" fill="#6f9c98"/>
<rect x="396.80" y="659.00" width="12.3" height="41.00" fill="#3aa49d"/>
<rect x="418.10" y="636.60" width="1.2" height="134.40" fill="#a88a6c"/>
<rect x="412.55" y="659.00" width="12.3" height="71.00" fill="#e5604f"/>
<rect x="433.85" y="617.00" width="1.2" height="127.70" fill="#6f9c98"/>
<rect x="428.30" y="676.60" width="12.3" height="53.40" fill="#30a59a"/>
<rect x="449.60" y="530.00" width="1.2" height="236.00" fill="#6f9c98"/>
<rect x="444.05" y="581.00" width="12.3" height="95.60" fill="#30a59a"/>
<rect x="465.35" y="399.00" width="1.2" height="182.50" fill="#6f9c98"/>
<rect x="459.80" y="436.00" width="12.3" height="145.50" fill="#30a59a"/>
<rect x="481.10" y="332.00" width="1.2" height="239.00" fill="#6f9c98"/>
<rect x="475.55" y="391.50" width="12.3" height="45.00" fill="#34a49b"/>
<rect x="496.85" y="352.00" width="1.2" height="106.70" fill="#6f9c98"/>
<rect x="491.30" y="379.00" width="12.3" height="12.50" fill="#659fa8"/>
<rect x="512.60" y="195.00" width="1.2" height="209.70" fill="#6f9c98"/>
<rect x="507.05" y="247.00" width="12.3" height="133.00" fill="#30a59a"/>
<rect x="528.35" y="205.50" width="1.2" height="272.50" fill="#a88a6c"/>
<rect x="522.80" y="247.00" width="12.3" height="178.50" fill="#e5604f"/>
<rect x="544.10" y="366.00" width="1.2" height="167.50" fill="#a88a6c"/>
<rect x="538.55" y="425.50" width="12.3" height="106.50" fill="#e5604f"/>
<rect x="559.85" y="407.70" width="1.2" height="126.30" fill="#6f9c98"/>
<rect x="554.30" y="447.00" width="12.3" height="85.00" fill="#30a59a"/>
<rect x="575.60" y="329.00" width="1.2" height="166.70" fill="#6f9c98"/>
<rect x="570.05" y="341.70" width="12.3" height="105.30" fill="#30a59a"/>
<rect x="591.35" y="334.00" width="1.2" height="254.70" fill="#a88a6c"/>
<rect x="585.80" y="341.00" width="12.3" height="243.00" fill="#e5604f"/>
<rect x="607.10" y="540.00" width="1.2" height="107.70" fill="#a88a6c"/>
<rect x="601.55" y="584.00" width="12.3" height="22.00" fill="#d17757"/>
<rect x="622.85" y="545.50" width="1.2" height="81.50" fill="#a88a6c"/>
<rect x="617.30" y="606.00" width="12.3" height="10.60" fill="#c8825b"/>
<rect x="638.60" y="552.00" width="1.2" height="71.00" fill="#6f9c98"/>
<rect x="633.05" y="590.00" width="12.3" height="25.70" fill="#51a1a3"/>
<rect x="654.35" y="578.70" width="1.2" height="86.00" fill="#a88a6c"/>
<rect x="648.80" y="590.00" width="12.3" height="10.00" fill="#c8825b"/>
<rect x="670.10" y="562.60" width="1.2" height="65.90" fill="#6f9c98"/>
<rect x="664.55" y="566.00" width="12.3" height="34.00" fill="#45a3a0"/>
<rect x="685.85" y="398.70" width="1.2" height="178.30" fill="#6f9c98"/>
<rect x="680.30" y="440.00" width="12.3" height="126.00" fill="#30a59a"/>
<rect x="701.60" y="392.00" width="1.2" height="98.00" fill="#a88a6c"/>
<rect x="696.05" y="440.00" width="12.3" height="12.00" fill="#c9805b"/>
<rect x="717.35" y="430.60" width="1.2" height="299.20" fill="#a88a6c"/>
<rect x="711.80" y="451.00" width="12.3" height="195.80" fill="#e5604f"/>
<rect x="733.10" y="607.00" width="1.2" height="88.70" fill="#a88a6c"/>
<rect x="727.55" y="646.80" width="12.3" height="44.70" fill="#e26350"/>
<rect x="748.85" y="639.00" width="1.2" height="89.50" fill="#6f9c98"/>
<rect x="743.30" y="661.70" width="12.3" height="29.80" fill="#4ba2a1"/>
<rect x="764.60" y="596.60" width="1.2" height="89.40" fill="#6f9c98"/>
<rect x="759.05" y="613.60" width="12.3" height="48.10" fill="#30a59a"/>
<rect x="780.35" y="598.70" width="1.2" height="49.00" fill="#a88a6c"/>
<rect x="774.80" y="612.80" width="12.3" height="10.60" fill="#c8825b"/>
<rect x="796.10" y="573.60" width="1.2" height="109.40" fill="#a88a6c"/>
<rect x="790.55" y="622.50" width="12.3" height="45.50" fill="#e36250"/>
<rect x="811.85" y="636.00" width="1.2" height="50.00" fill="#6f9c98"/>
<rect x="806.30" y="647.70" width="12.3" height="20.30" fill="#5aa0a5"/>
<rect x="827.60" y="639.00" width="1.2" height="29.00" fill="#a88a6c"/>
<rect x="822.05" y="647.70" width="12.3" height="9.70" fill="#c7825b"/>
<rect x="843.35" y="603.40" width="1.2" height="58.30" fill="#6f9c98"/>
<rect x="837.80" y="607.70" width="12.3" height="49.70" fill="#30a59a"/>
<rect x="859.10" y="423.70" width="1.2" height="186.30" fill="#6f9c98"/>
<rect x="853.55" y="462.00" width="12.3" height="145.80" fill="#30a59a"/>
<rect x="874.85" y="390.00" width="1.2" height="100.80" fill="#6f9c98"/>
<rect x="869.30" y="420.00" width="12.3" height="42.70" fill="#38a49c"/>
<rect x="890.60" y="398.00" width="1.2" height="84.80" fill="#6f9c98"/>
<rect x="885.05" y="410.00" width="12.3" height="10.50" fill="#689ea9"/>
<rect x="906.35" y="371.00" width="1.2" height="100.60" fill="#a88a6c"/>
<rect x="900.80" y="411.00" width="12.3" height="8.60" fill="#c6835c"/>
<rect x="922.10" y="380.60" width="1.2" height="114.90" fill="#a88a6c"/>
<rect x="916.55" y="419.00" width="12.3" height="64.40" fill="#e5604f"/>
<rect x="937.85" y="356.70" width="1.2" height="154.80" fill="#6f9c98"/>
<rect x="932.30" y="390.00" width="12.3" height="93.40" fill="#30a59a"/>
<rect x="953.60" y="368.50" width="1.2" height="90.50" fill="#a88a6c"/>
<rect x="948.05" y="390.00" width="12.3" height="23.00" fill="#d27657"/>
<rect x="969.35" y="389.60" width="1.2" height="85.40" fill="#a88a6c"/>
<rect x="963.80" y="412.60" width="12.3" height="43.00" fill="#e16451"/>
<rect x="985.10" y="435.50" width="1.2" height="128.50" fill="#6f9c98"/>
<rect x="979.55" y="442.90" width="12.3" height="12.70" fill="#659fa8"/>
<rect x="1000.85" y="301.30" width="1.2" height="141.60" fill="#6f9c98"/>
<rect x="995.30" y="335.40" width="12.3" height="107.50" fill="#30a59a"/>
<rect x="1016.60" y="291.70" width="1.2" height="82.00" fill="#a88a6c"/>
<rect x="1011.05" y="334.50" width="12.3" height="4.10" fill="#c28a5e"/>
<rect x="1032.35" y="297.00" width="1.2" height="89.50" fill="#6f9c98"/>
<rect x="1026.80" y="326.80" width="12.3" height="11.80" fill="#669fa8"/>
<rect x="1048.10" y="243.80" width="1.2" height="99.60" fill="#6f9c98"/>
<rect x="1042.55" y="291.40" width="12.3" height="36.10" fill="#42a39f"/>
<rect x="1063.85" y="129.60" width="1.2" height="165.90" fill="#6f9c98"/>
<rect x="1058.30" y="146.20" width="12.3" height="145.50" fill="#30a59a"/>
<rect x="1079.60" y="142.30" width="1.2" height="166.00" fill="#a88a6c"/>
<rect x="1074.05" y="146.20" width="12.3" height="142.00" fill="#e5604f"/>
<rect x="1095.35" y="272.60" width="1.2" height="34.10" fill="#a88a6c"/>
<rect x="1089.80" y="288.20" width="12.3" height="11.20" fill="#c8815b"/>
<!-- key level line -->

<line x1="1506" y1="295" x2="1519" y2="285" stroke="#4d7a46" stroke-width="1.3"/>
<text x="1271.6" y="286.3" textLength="224.8" lengthAdjust="spacingAndGlyphs" style="font-family:'Liberation Sans',sans-serif;font-size:21.7px;fill:#eef2f2">KEY LEVEL TO WATCH</text>
<rect x="1512.3" y="256" width="110.2" height="30.3" fill="#3e7b3c"/>
<text x="1521.6" y="278.5" textLength="93" lengthAdjust="spacingAndGlyphs" style="font-family:'Liberation Sans',sans-serif;font-size:23px;font-weight:bold;fill:#e6f6e4">1850.00</text>
<!-- logo -->
<g fill="#f6f6f8">
<path d="M85.6,48.3 L77.5,41.4 A26,25.5 0 1 0 85.6,78.7 L73.8,71.4 A11.6,12.8 0 1 1 73.8,55.6 Z"/>
<rect x="35" y="65.5" width="5" height="3.6"/>
<rect x="40.5" y="47.5" width="3" height="2.5"/>
</g>
<g fill="#131722">
<rect x="73.5" y="39" width="3.6" height="3.2"/>
<circle cx="47.6" cy="49.3" r="1.3"/>
<circle cx="53" cy="82" r="1.3"/>
<circle cx="74.4" cy="79" r="1.3"/>
<rect x="48.5" y="67" width="5" height="1.6"/>
<rect x="38" y="62" width="1.4" height="3.5"/>
</g>
<!-- axes -->
<rect x="1732" y="0" width="1" height="937" fill="#6a6e78"/>
<rect x="0" y="905.5" width="1800" height="1.2" fill="#5d616b"/>
<text x="1742.6" y="49.9" textLength="53.3" lengthAdjust="spacingAndGlyphs" class="pl">2300.00</text>
<text x="1742.6" y="105.7" textLength="53.3" lengthAdjust="spacingAndGlyphs" class="pl">2200.00</text>
<text x="1742.6" y="161.5" textLength="53.3" lengthAdjust="spacingAndGlyphs" class="pl">2100.00</text>
<text x="1742.6" y="217.4" textLength="53.3" lengthAdjust="spacingAndGlyphs" class="pl">2000.00</text>
<text x="1742.6" y="273.2" textLength="53.3" lengthAdjust="spacingAndGlyphs" class="pl">1900.00</text>
<text x="1742.6" y="329.1" textLength="53.3" lengthAdjust="spacingAndGlyphs" class="pl">1800.00</text>
<text x="1742.6" y="384.9" textLength="53.3" lengthAdjust="spacingAndGlyphs" class="pl">1700.00</text>
<text x="1742.6" y="440.8" textLength="53.3" lengthAdjust="spacingAndGlyphs" class="pl">1600.00</text>
<text x="1742.6" y="496.6" textLength="53.3" lengthAdjust="spacingAndGlyphs" class="pl">1500.00</text>
<text x="1742.6" y="552.5" textLength="53.3" lengthAdjust="spacingAndGlyphs" class="pl">1400.00</text>
<text x="1742.6" y="608.3" textLength="53.3" lengthAdjust="spacingAndGlyphs" class="pl">1300.00</text>
<text x="1742.6" y="664.1" textLength="53.3" lengthAdjust="spacingAndGlyphs" class="pl">1200.00</text>
<text x="1742.6" y="720.0" textLength="53.3" lengthAdjust="spacingAndGlyphs" class="pl">1100.00</text>
<text x="1742.6" y="775.8" textLength="53.3" lengthAdjust="spacingAndGlyphs" class="pl">1000.00</text>
<text x="1741.8" y="831.7" textLength="45.5" lengthAdjust="spacingAndGlyphs" class="pl">900.00</text>
<text x="1741.8" y="887.5" textLength="45.5" lengthAdjust="spacingAndGlyphs" class="pl">800.00</text>
<!-- current price label -->
<rect x="1729" y="289" width="3" height="46" fill="#3c2440"/>
<rect x="1733" y="288" width="67" height="1" fill="#2a0a18"/>
<rect x="1733" y="326" width="67" height="9" fill="#3e0c24"/>
<svg x="1733" y="326" width="67" height="9" overflow="hidden"><text x="8.6" y="3.4" textLength="53.3" lengthAdjust="spacingAndGlyphs" style="font-family:'Liberation Sans',sans-serif;font-size:15.5px;fill:#e8c8d8">1800.00</text></svg>
<rect x="1733" y="289" width="67" height="31" fill="#ec5a4e"/>
<rect x="1733" y="320" width="67" height="6" fill="#b98a62"/>
<text x="1743.5" y="305" textLength="52.8" lengthAdjust="spacingAndGlyphs" style="font-family:'Liberation Sans',sans-serif;font-size:14.6px;fill:#ffe8e6">1843.50</text>
<text x="1742.5" y="320.7" textLength="35.5" lengthAdjust="spacingAndGlyphs" style="font-family:'Liberation Sans',sans-serif;font-size:14.6px;fill:#ffd8d2">6d 9h</text>
<text x="6.0" y="926.2" textLength="36.9" lengthAdjust="spacingAndGlyphs" class="tb">2022</text>
<text x="153.8" y="926.2" textLength="25.3" lengthAdjust="spacingAndGlyphs" class="tl">Mar</text>
<text x="278.5" y="926.2" textLength="27.9" lengthAdjust="spacingAndGlyphs" class="tl">May</text>
<text x="424.7" y="926.2" textLength="19.7" lengthAdjust="spacingAndGlyphs" class="tl">Jul</text>
<text x="563.4" y="926.2" textLength="25.9" lengthAdjust="spacingAndGlyphs" class="tl">Sep</text>
<text x="705.0" y="926.2" textLength="25.9" lengthAdjust="spacingAndGlyphs" class="tl">Nov</text>
<text x="825.2" y="926.2" textLength="37.3" lengthAdjust="spacingAndGlyphs" class="tb">2023</text>
<text x="972.9" y="926.2" textLength="25.3" lengthAdjust="spacingAndGlyphs" class="tl">Mar</text>
<text x="1097.6" y="926.2" textLength="27.6" lengthAdjust="spacingAndGlyphs" class="tl">May</text>
<text x="1243.6" y="926.2" textLength="20.2" lengthAdjust="spacingAndGlyphs" class="tl">Jul</text>
<text x="1382.0" y="926.2" textLength="26.3" lengthAdjust="spacingAndGlyphs" class="tl">Sep</text>
<text x="1523.6" y="926.2" textLength="26.6" lengthAdjust="spacingAndGlyphs" class="tl">Nov</text>
<text x="1644.2" y="926.2" textLength="37.6" lengthAdjust="spacingAndGlyphs" class="tb">2024</text>
<!-- gear -->
<g transform="translate(1769.4,921.5)"><polygon points="0.00,-5.30 1.42,-3.42 3.75,-3.75 3.42,-1.42 5.30,0.00 3.42,1.42 3.75,3.75 1.42,3.42 0.00,5.30 -1.42,3.42 -3.75,3.75 -3.42,1.42 -5.30,0.00 -3.42,-1.42 -3.75,-3.75 -1.42,-3.42" fill="#646978"/><circle r="2.2" fill="#0a0c14"/></g>
<!-- TV logo fragment -->
<rect x="0" y="884.8" width="2.3" height="11.1" fill="#e6e8ee"/>
<circle cx="5.75" cy="887.4" r="1.9" fill="#e6e8ee"/>
<path d="M10,884.8 L14.9,884.8 L11,895.9 L5.9,895.9 Z" fill="#e6e8ee"/>
<rect x="0" y="935.5" width="1800" height="1.5" fill="#22252d"/>
<rect x="0" y="937" width="1800" height="3" fill="#07080c"/>
</svg>
</body></html>
